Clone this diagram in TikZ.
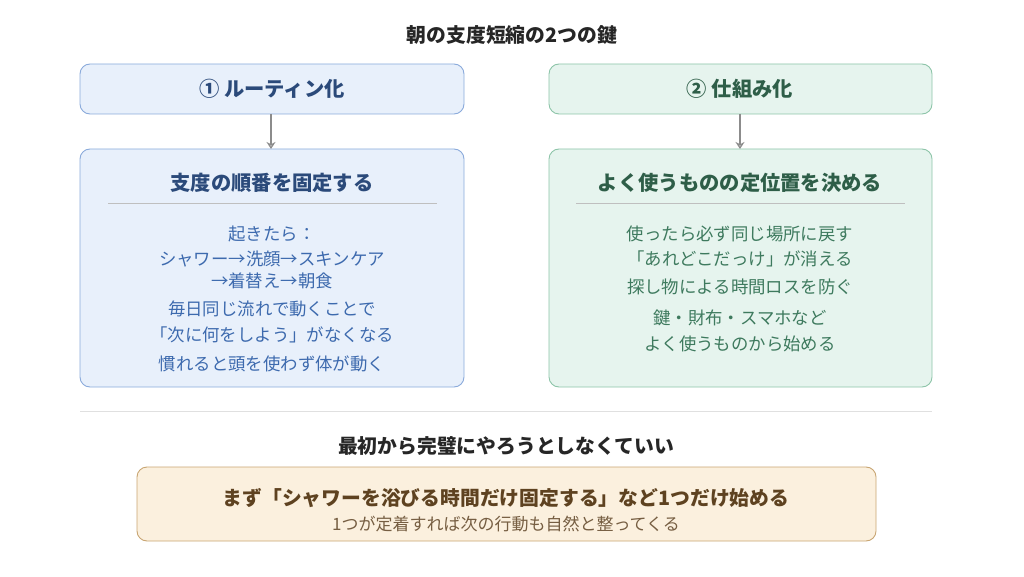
\documentclass[tikz,border=0pt]{standalone}
\usepackage{fontspec}
\setmainfont{Noto Sans CJK JP}
\definecolor{bluefill}{HTML}{E8F0FB}
\definecolor{blueline}{HTML}{8AAADB}
\definecolor{bluehead}{HTML}{2B4A7A}
\definecolor{bluetext}{HTML}{3D6AAE}
\definecolor{greenfill}{HTML}{E6F4EE}
\definecolor{greenline}{HTML}{8CC4A8}
\definecolor{greenhead}{HTML}{2E5E48}
\definecolor{greentext}{HTML}{3E7A5E}
\definecolor{orangefill}{HTML}{FBF0DE}
\definecolor{orangeline}{HTML}{C8A572}
\definecolor{orangetext}{HTML}{5E4220}
\tikzset{
  box/.style={draw, rounded corners=10pt, line width=0.9pt},
  bluebox/.style={box, fill=bluefill, draw=blueline},
  greenbox/.style={box, fill=greenfill, draw=greenline},
  head/.style={font=\fontsize{20.3}{24}\selectfont\bfseries},
  body/.style={font=\fontsize{17.4}{20}\selectfont},
  flow/.style={draw=gray!90, line width=1.6pt, ->, >={Stealth[length=7pt,width=9pt,open]}}
}
\usetikzlibrary{arrows.meta}
\begin{document}
\begin{tikzpicture}[x=1pt, y=-1pt]
  \useasboundingbox (0,0) rectangle (1024,577);

  \node[font=\fontsize{19.8}{24}\selectfont\bfseries, black!85] (title) at (512,35) {朝の支度短縮の2つの鍵};

  % left column
  \draw[bluebox] (80,64) rectangle (464,114);
  \node[head, bluehead] (routine) at (272,89) {① ルーティン化};
  \draw[bluebox] (80,149) rectangle (464,387);
  \node[head, bluehead] (order) at (272,183) {支度の順番を固定する};
  \draw[black!25] (108,203) -- (437,203);
  \node[body, bluetext] (l1) at (272,234) {起きたら：};
  \node[body, bluetext] (l2) at (272,259) {シャワー→洗顔→スキンケア};
  \node[body, bluetext] (l3) at (272,281) {→着替え→朝食};
  \node[body, bluetext] (l4) at (272,309) {毎日同じ流れで動くことで};
  \node[body, bluetext] (l5) at (272,335) {「次に何をしよう」がなくなる};
  \node[body, bluetext] (l6) at (272,364) {慣れると頭を使わず体が動く};
  \coordinate (la) at (271,114);
  \coordinate (lb) at (271,149);
  \draw[flow] (la) -- (lb);

  % right column
  \draw[greenbox] (549,64) rectangle (932,114);
  \node[head, greenhead] (system) at (740,89) {② 仕組み化};
  \draw[greenbox] (549,149) rectangle (932,387);
  \node[head, greenhead] (place) at (740,183) {よく使うものの定位置を決める};
  \draw[black!25] (576,203) -- (905,203);
  \node[body, greentext] (r1) at (740,234) {使ったら必ず同じ場所に戻す};
  \node[body, greentext] (r2) at (740,259) {「あれどこだっけ」が消える};
  \node[body, greentext] (r3) at (740,287) {探し物による時間ロスを防ぐ};
  \node[body, greentext] (r4) at (740,318) {鍵・財布・スマホなど};
  \node[body, greentext] (r5) at (740,344) {よく使うものから始める};
  \coordinate (ra) at (740,114);
  \coordinate (rb) at (740,149);
  \draw[flow] (ra) -- (rb);

  % bottom
  \draw[black!12] (80,411) -- (932,411);
  \node[font=\fontsize{19.8}{24}\selectfont\bfseries, black!85] (note) at (506,446) {最初から完璧にやろうとしなくていい};
  \draw[box, fill=orangefill, draw=orangeline] (137,467) rectangle (876,541);
  \node[font=\fontsize{19.8}{24}\selectfont\bfseries, orangetext] (first) at (506,498) {まず「シャワーを浴びる時間だけ固定する」など1つだけ始める};
  \node[font=\fontsize{17}{20}\selectfont, orangetext!85] (habit) at (506,524) {1つが定着すれば次の行動も自然と整ってくる};
\end{tikzpicture}
\end{document}
